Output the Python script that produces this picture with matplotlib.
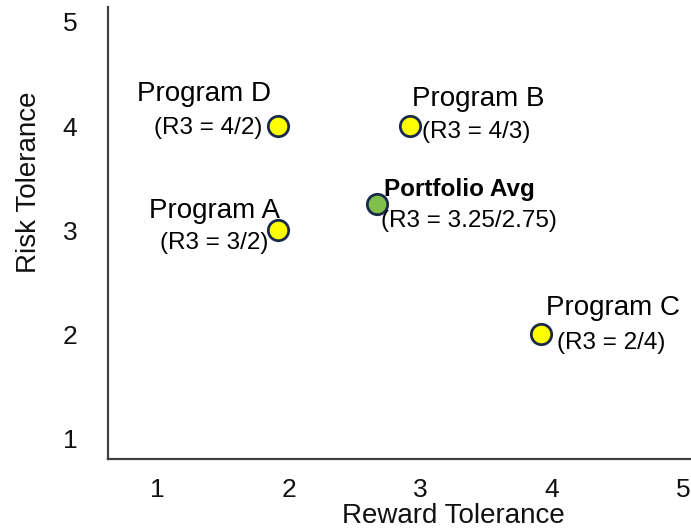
import matplotlib.pyplot as plt
import matplotlib.transforms as mtransforms

plt.rcParams['font.family'] = ['Liberation Sans', 'DejaVu Sans']

# program ratings (risk / reward)
programs = ['Program D', 'Program B', 'Program A', 'Program C']
risk = [4, 4, 3, 2]
reward = [2, 3, 2, 4]

avg_name = 'Portfolio Avg'
avg_risk = 3.25
avg_reward = 2.75

ticks = [1, 2, 3, 4, 5]

# label placement per program: (ha, name offset px, r3 offset px)
placement = {
    'Program D': ('right', (-7, 25), (-16, -8)),
    'Program A': ('right', (2, 12), (-10, -19)),
    'Program B': ('left', (2, 20), (12, -12)),
    'Program C': ('left', (5, 19), (16, -15)),
}

fig = plt.figure(figsize=(6.91, 5.31), dpi=100)
ax = fig.add_axes([108 / 691, 1 - 459 / 531, 1 - 108 / 691, 452 / 531])

edge = '#1b2a4a'
ax.scatter(reward, risk, s=215, color='#ffff00', edgecolor=edge,
           linewidth=2, zorder=3, clip_on=False)
ax.scatter([avg_reward], [avg_risk], s=215, color='#80c04a', edgecolor=edge,
           linewidth=2, zorder=3, clip_on=False)

for name, r, w in zip(programs, risk, reward):
    ha, off_name, off_r3 = placement[name]
    ax.annotate(name, (w, r), xytext=off_name, textcoords='offset pixels',
                ha=ha, va='baseline', fontsize=20)
    ax.annotate(f'(R3 = {r}/{w})', (w, r), xytext=off_r3,
                textcoords='offset pixels', ha=ha, va='baseline', fontsize=17.5)

ax.annotate(avg_name, (avg_reward, avg_risk), xytext=(7, 8),
            textcoords='offset pixels', ha='left', va='baseline',
            fontsize=17.5, fontweight='bold')
ax.annotate(f'(R3 = {avg_risk}/{avg_reward})', (avg_reward, avg_risk),
            xytext=(4, -23), textcoords='offset pixels', ha='left',
            va='baseline', fontsize=17.5)

ax.set_xlim(0.705, 5.14)
ax.set_ylim(0.8, 5.144)
ax.set_xticks(ticks)
ax.set_yticks(ticks)
ax.tick_params(length=0, labelsize=19, labelcolor='#111111')
ax.tick_params(axis='x', pad=14)
ax.tick_params(axis='y', pad=22)

# nudge x tick labels to the right
shift = mtransforms.ScaledTranslation(11 / 100, 0, fig.dpi_scale_trans)
for lbl in ax.get_xticklabels():
    lbl.set_transform(lbl.get_transform() + shift)

for side in ['top', 'right']:
    ax.spines[side].set_visible(False)
for side in ['left', 'bottom']:
    ax.spines[side].set_color('#404040')
    ax.spines[side].set_linewidth(1.6)

ax.set_xlabel('Reward Tolerance', fontsize=20, color='#111111')
ax.set_ylabel('Risk Tolerance', fontsize=20, color='#111111')
ax.xaxis.set_label_coords(0.592, -0.097)
ax.yaxis.set_label_coords(-0.113, 0.613)

fig.savefig('out.png', dpi=100)
